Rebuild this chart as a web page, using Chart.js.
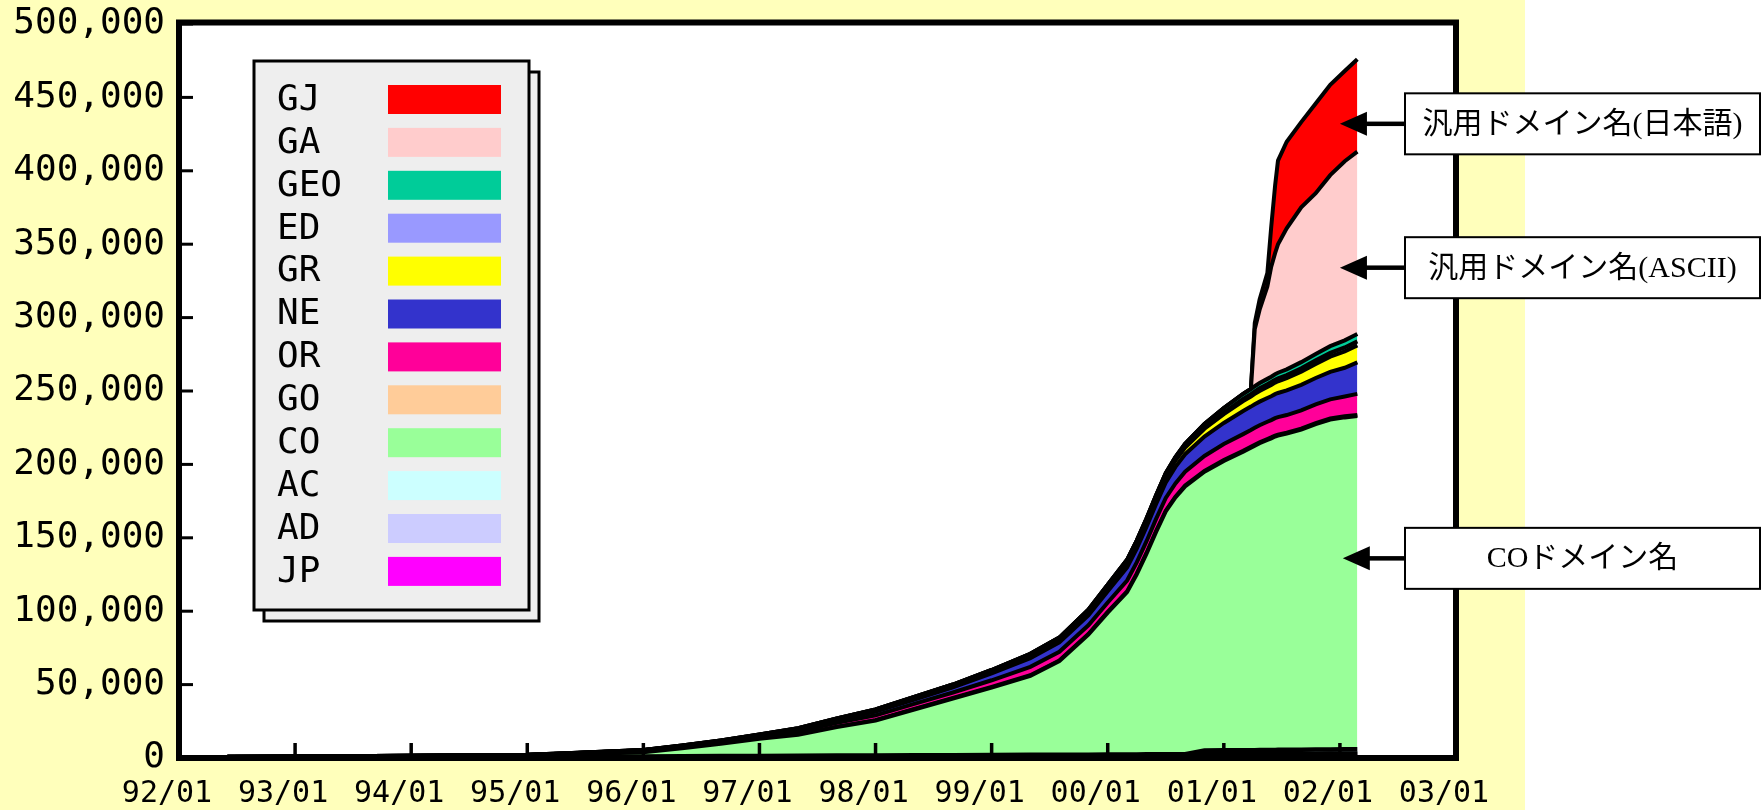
<!DOCTYPE html>
<html lang="ja">
<head>
<meta charset="UTF-8">
<title>JPドメイン名 登録数の推移</title>
<script src="https://cdn.jsdelivr.net/npm/chart.js"></script>
<style>
  html, body { margin: 0; padding: 0; background: #fff; }
  #wrap { width: 1763px; height: 810px; }
</style>
</head>
<body>
<div id="wrap"><canvas id="domainChart" width="1763" height="810"></canvas></div>
<script>
// x = months since 1992/01
const months = [5, 12, 24, 36, 40, 48, 52, 56, 60, 64, 68, 72, 76, 80, 84, 88,
  91, 94, 96, 98, 99, 100, 101, 102, 103, 104, 106, 108,
  110, 110.8, 111.2, 111.7, 112.5, 112.9, 113.3, 113.6, 114.5, 116, 117.5, 119, 120.5, 121.8];

// series, bottom of the stack first
const JP = [0, 0, 0, 0, 0, 0, 0, 0, 0, 0, 0, 0, 0, 0, 0, 0,
  0, 0, 0, 0, 0, 0, 0, 0, 0, 0, 2500, 2500,
  2500, 2500, 2500, 2550, 2550, 2550, 2600, 2600, 2600, 2650, 2700, 2700, 2750, 2800];
const AD = [50, 50, 60, 60, 70, 80, 90, 100, 100, 110, 120, 130, 140, 150, 160, 170,
  180, 190, 200, 200, 200, 210, 210, 220, 220, 230, 230, 240,
  250, 250, 255, 255, 260, 260, 260, 265, 270, 270, 280, 285, 290, 300];
const AC = [300, 400, 500, 700, 800, 1000, 1100, 1200, 1300, 1400, 1500, 1600, 1700, 1800, 1900, 2000,
  2050, 2100, 2150, 2200, 2250, 2300, 2300, 2350, 2400, 2400, 2450, 2500,
  2550, 2570, 2590, 2600, 2650, 2650, 2660, 2670, 2700, 2750, 2800, 2850, 2880, 2900];
const CO = [250, 300, 550, 850, 1400, 2900, 5500, 8400, 11700, 14300, 19400, 23800, 31200, 38600, 45900, 53800,
  63800, 81700, 96700, 110600, 122600, 136500, 151500, 165400, 174900, 182400, 189800, 197100,
  203300, 206000, 207400, 209000, 211200, 212300, 213500, 214100, 215400, 218000, 221700, 224700, 226100, 227000];
const GO = [50, 60, 80, 100, 120, 150, 170, 190, 210, 230, 260, 290, 320, 350, 380, 410,
  430, 450, 470, 490, 500, 510, 520, 530, 540, 550, 570, 590,
  610, 615, 620, 625, 630, 635, 640, 645, 650, 670, 690, 700, 710, 720];
const OR = [100, 120, 180, 260, 410, 720, 860, 1110, 1330, 2020, 2670, 3250, 3500, 3720, 4610, 5730,
  5890, 5950, 6450, 7380, 7700, 8000, 8320, 8630, 9000, 9400, 10200, 10900,
  11420, 11520, 11580, 11640, 11750, 11790, 11850, 11910, 12000, 12400, 12700, 13100, 13500, 14300];
const NE = [50, 70, 90, 140, 220, 380, 470, 600, 810, 1350, 1920, 2560, 2980, 3430, 4610, 5960,
  6380, 6700, 7580, 9030, 9400, 9790, 10160, 10540, 11260, 11950, 13230, 14410,
  15770, 15915, 16000, 16085, 16220, 16275, 16360, 16445, 16850, 17480, 17960, 18750, 19590, 21480];
const GR = [0, 0, 0, 0, 0, 0, 0, 0, 150, 300, 450, 600, 800, 1000, 1300, 1700,
  2000, 2400, 2800, 3200, 3400, 3600, 3800, 4000, 4300, 4600, 5300, 6000,
  6700, 6900, 7100, 7300, 7500, 7700, 7850, 8000, 8300, 9000, 9600, 10300, 11200, 11600];
const ED = [0, 0, 0, 0, 0, 0, 0, 0, 0, 0, 0, 0, 0, 0, 0, 0,
  0, 0, 0, 0, 0, 0, 0, 0, 0, 0, 400, 1000,
  1500, 1600, 1700, 1800, 1900, 1950, 2000, 2050, 2100, 2300, 2450, 2550, 2650, 2700];
const GEO = [0, 0, 50, 100, 150, 250, 300, 400, 500, 600, 700, 800, 900, 1000, 1100, 1200,
  1300, 1500, 1700, 1900, 2000, 2100, 2200, 2300, 2400, 2500, 2800, 3100,
  3400, 3450, 3500, 3550, 3600, 3650, 3700, 3750, 3900, 4150, 4400, 4600, 4850, 5000];
const GA = [0, 0, 0, 0, 0, 0, 0, 0, 0, 0, 0, 0, 0, 0, 0, 0,
  0, 0, 0, 0, 0, 0, 0, 0, 0, 0, 0, 0,
  0, 0, 39000, 50000, 63000, 75000, 82500, 87500, 96000, 105500, 109500, 116500, 122000, 124200];
const GJ = [0, 0, 0, 0, 0, 0, 0, 0, 0, 0, 0, 0, 0, 0, 0, 0,
  0, 0, 0, 0, 0, 0, 0, 0, 0, 0, 0, 0,
  0, 0, 4000, 7000, 9000, 27000, 46000, 57000, 59000, 58000, 61000, 61500, 61500, 63000];

const seriesNames = ['JP', 'AD', 'AC', 'CO', 'GO', 'OR', 'NE', 'GR', 'ED', 'GEO', 'GA', 'GJ'];
const seriesValues = [JP, AD, AC, CO, GO, OR, NE, GR, ED, GEO, GA, GJ];
const seriesColors = ['#FF00FF', '#CCCCFF', '#CCFFFF', '#99FF99', '#FFCC99', '#FF0099',
  '#3333CC', '#FFFF00', '#9999FF', '#00CC99', '#FFCCCC', '#FF0000'];

const xTickLabels = ['92/01', '93/01', '94/01', '95/01', '96/01', '97/01', '98/01', '99/01', '00/01', '01/01', '02/01', '03/01'];
const yTickLabels = ['0', '50,000', '100,000', '150,000', '200,000', '250,000', '300,000', '350,000', '400,000', '450,000', '500,000'];

// callouts on the right: text, month and value the arrow points at
const notes = [
  { text: '汎用ドメイン名(日本語)', month: 120, value: 432000 },
  { text: '汎用ドメイン名(ASCII)', month: 120, value: 334000 },
  { text: 'COドメイン名', month: 120.3, value: 136000 }
];

const monoFont = '"DejaVu Sans Mono", monospace';
const panelWidth = 1525;

const datasets = seriesNames.map((name, i) => ({
  label: name,
  data: months.map((m, j) => ({ x: m, y: seriesValues[i][j] })),
  backgroundColor: seriesColors[i],
  borderColor: '#000',
  borderWidth: i < 3 ? 4.5 : 4,
  pointRadius: 0,
  tension: 0,
  fill: i === 0 ? 'origin' : '-1'
}));

// yellow panel + white plot area
const backdrop = {
  id: 'backdrop',
  beforeDraw(chart) {
    const { ctx, chartArea: a } = chart;
    ctx.save();
    ctx.fillStyle = '#FFFFFF';
    ctx.fillRect(0, 0, chart.width, chart.height);
    ctx.fillStyle = '#FFFFBB';
    ctx.fillRect(0, 0, panelWidth, chart.height);
    ctx.fillStyle = '#FFFFFF';
    ctx.fillRect(a.left, a.top, a.right - a.left, a.bottom - a.top);
    ctx.restore();
  }
};

// thick frame with inward tick marks
const frame = {
  id: 'frame',
  afterDatasetsDraw(chart) {
    const { ctx, chartArea: a, scales: { x, y } } = chart;
    ctx.save();
    ctx.fillStyle = '#000';
    y.ticks.forEach(t => {
      const py = y.getPixelForValue(t.value);
      ctx.fillRect(a.left, py - 1.5, 14, 3);
    });
    x.ticks.forEach(t => {
      const px = x.getPixelForValue(t.value);
      ctx.fillRect(px - 1.75, a.bottom - 15, 3.5, 15);
    });
    ctx.lineWidth = 6;
    ctx.strokeStyle = '#000';
    ctx.strokeRect(a.left, a.top - 1.5, a.right - a.left, a.bottom - a.top + 1.5);
    ctx.restore();
  }
};

// boxed legend with a shadow sheet
const boxLegend = {
  id: 'boxLegend',
  afterDraw(chart) {
    const { ctx } = chart;
    const bx = 254, by = 61, bw = 275, bh = 549;
    ctx.save();
    ctx.lineWidth = 3;
    ctx.strokeStyle = '#000';
    ctx.fillStyle = '#EEEEEE';
    ctx.fillRect(bx + 10, by + 11, bw, bh);
    ctx.strokeRect(bx + 10, by + 11, bw, bh);
    ctx.fillRect(bx, by, bw, bh);
    ctx.strokeRect(bx, by, bw, bh);
    ctx.font = '36px ' + monoFont;
    ctx.textBaseline = 'middle';
    ctx.textAlign = 'left';
    const items = chart.data.datasets.slice().reverse();
    items.forEach((ds, i) => {
      const cy = 99.5 + i * 42.9;
      ctx.fillStyle = '#000';
      ctx.fillText(ds.label, 277, cy + 1);
      ctx.fillStyle = ds.backgroundColor;
      ctx.fillRect(388, cy - 14.5, 113, 29);
    });
    ctx.restore();
  }
};

// callout boxes with arrows
const callouts = {
  id: 'callouts',
  afterDraw(chart) {
    const { ctx, scales: { x, y } } = chart;
    const boxLeft = 1405, boxRight = 1760, boxH = 61;
    ctx.save();
    notes.forEach(n => {
      const tx = x.getPixelForValue(n.month);
      const ty = y.getPixelForValue(n.value);
      ctx.fillStyle = '#000';
      ctx.fillRect(tx + 20, ty - 2.25, boxLeft - tx - 20, 4.5);
      ctx.beginPath();
      ctx.moveTo(tx, ty);
      ctx.lineTo(tx + 27, ty - 12);
      ctx.lineTo(tx + 27, ty + 12);
      ctx.closePath();
      ctx.fill();
      ctx.fillStyle = '#FFFFFF';
      ctx.fillRect(boxLeft, ty - boxH / 2, boxRight - boxLeft, boxH);
      ctx.lineWidth = 2;
      ctx.strokeStyle = '#000';
      ctx.strokeRect(boxLeft, ty - boxH / 2, boxRight - boxLeft, boxH);
      ctx.fillStyle = '#000';
      ctx.font = '30px "Liberation Serif", "Noto Sans CJK JP", serif';
      ctx.textAlign = 'center';
      ctx.textBaseline = 'middle';
      ctx.fillText(n.text, (boxLeft + boxRight) / 2, ty + 1);
    });
    ctx.restore();
  }
};

new Chart(document.getElementById('domainChart'), {
  type: 'line',
  data: { datasets },
  options: {
    responsive: false,
    animation: false,
    devicePixelRatio: 1,
    layout: { padding: { left: 0, top: 24, right: 307, bottom: 0 } },
    plugins: { legend: { display: false }, tooltip: { enabled: false } },
    scales: {
      x: {
        type: 'linear',
        min: 0,
        max: 132,
        border: { display: false },
        grid: { display: false, drawTicks: false },
        ticks: {
          stepSize: 12,
          autoSkip: false,
          maxRotation: 0,
          padding: 18,
          labelOffset: -12,
          color: '#000',
          font: { family: monoFont, size: 30 },
          callback: v => xTickLabels[v / 12]
        },
        afterFit: s => { s.height = 52; }
      },
      y: {
        stacked: true,
        min: 0,
        max: 500000,
        border: { display: false },
        grid: { display: false, drawTicks: false },
        ticks: {
          stepSize: 50000,
          padding: 14,
          color: '#000',
          font: { family: monoFont, size: 36, lineHeight: 0.3 },
          callback: v => yTickLabels[v / 50000]
        },
        afterFit: s => { s.width = 179; }
      }
    }
  },
  plugins: [backdrop, frame, boxLegend, callouts]
});
</script>
</body>
</html>
